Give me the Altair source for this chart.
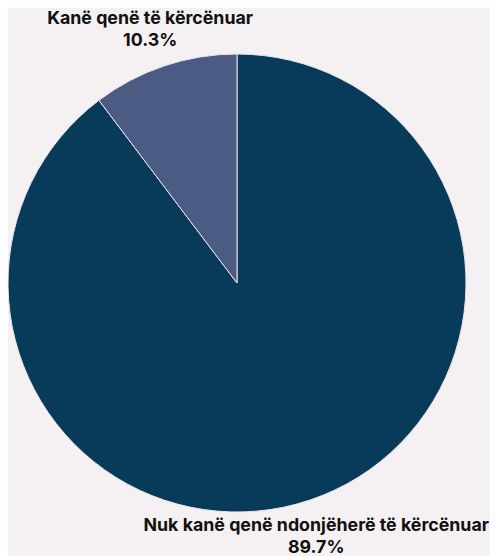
import altair as alt
import pandas as pd

categories = ["Nuk kanë qenë ndonjëherë të kërcënuar", "Kanë qenë të kërcënuar"]
values = [89.7, 10.3]
order = [1, 2]
colors = ["#083B5A", "#4B5B83"]

df = pd.DataFrame({
    "category": categories,
    "value": values,
    "order": order,
})
df["label"] = [f"{c}\n{v:.1f}%" for c, v in zip(categories, values)]

base = alt.Chart(df).encode(
    theta=alt.Theta("value:Q", stack=True),
    order=alt.Order("order:Q"),
)

arcs = base.mark_arc(outerRadius=229, stroke="#E9E4EA", strokeWidth=1).encode(
    color=alt.Color("category:N", scale=alt.Scale(domain=categories, range=colors), legend=None)
)

text_style = dict(font="Inter", fontSize=17.8, fontWeight="bold", color="#111111",
                  lineBreak="\n", lineHeight=22, align="center", baseline="middle")

label_small = base.mark_text(radius=267, dx=-2, dy=-11, **text_style).encode(
    text=alt.condition(alt.datum.order == 2, "label:N", alt.value(""))
)
label_big = base.mark_text(radius=268, dx=-6, dy=-11, **text_style).encode(
    text=alt.condition(alt.datum.order == 1, "label:N", alt.value(""))
)

chart = alt.layer(arcs, label_small, label_big).properties(
    width=458, height=530,
    autosize=alt.AutoSizeParams(type="none"),
    padding={"left": 0, "top": 10, "right": 24, "bottom": 10},
    background="#F5F0F2",
).configure_view(stroke=None)

chart.save("out.html", embed_options={"renderer": "svg", "actions": False})
